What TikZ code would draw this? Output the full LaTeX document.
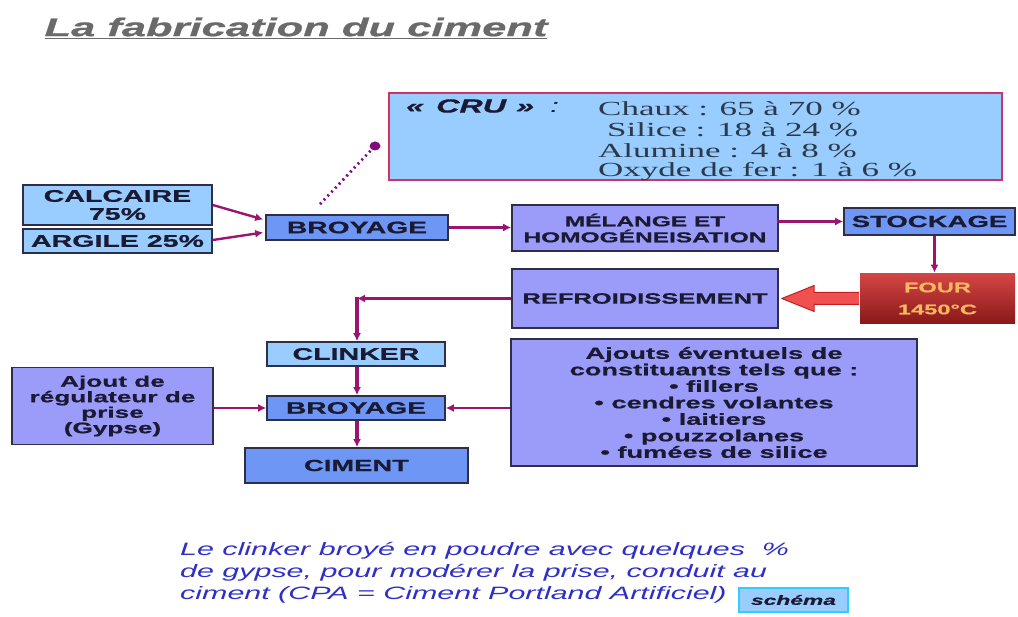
\documentclass[tikz,border=0pt]{standalone}
\usepackage{fontspec}
\usetikzlibrary{arrows.meta,calc}
\newfontfamily\bx[FakeStretch=1.7,FakeBold=0.8]{Liberation Sans}
\newfontfamily\nx[FakeStretch=1.7]{Liberation Sans}
\newfontfamily\sx[FakeStretch=1.75]{Liberation Serif}
\newcommand\fsz[2]{\fontsize{#1}{#2}\selectfont}
\definecolor{lbc}{HTML}{99CCFF}
\definecolor{mbc}{HTML}{6E96F5}
\definecolor{lvc}{HTML}{9B9BFA}
\definecolor{bordc}{HTML}{2E2E48}
\definecolor{txtc}{HTML}{1A1A33}
\definecolor{arrc}{HTML}{9A1570}
\definecolor{cruc}{HTML}{CC3366}
\definecolor{bluet}{HTML}{2F2FC8}
\definecolor{titc}{HTML}{6A6A6A}
\definecolor{fourt}{HTML}{F5B860}
\definecolor{fourtop}{HTML}{D54545}
\definecolor{fourbot}{HTML}{8A1818}
\definecolor{redar}{HTML}{F05050}
\definecolor{redbd}{HTML}{C02020}
\definecolor{cyanb}{HTML}{33CCFF}
\definecolor{dotc}{HTML}{800A80}
\definecolor{serc}{HTML}{2A3A4A}
\begin{document}
\begin{tikzpicture}[x=1pt,y=-1pt,
  box/.style={draw=bordc, line width=1.6pt, inner sep=0pt, align=center, text=txtc, font=\bx\bfseries},
  lbbox/.style={box, fill=lbc},
  mbbox/.style={box, fill=mbc},
  lvbox/.style={box, fill=lvc},
  flow/.style={draw=arrc, line width=3pt, -{Latex[length=8pt,width=8pt]}},
  vflow/.style={flow, line width=3.5pt},
  thinflow/.style={flow, line width=2.4pt},
  sline/.style={anchor=west, inner sep=0pt, text=serc, font=\sx\fsz{20}{21}}]
\useasboundingbox (0,0) rectangle (1018,617);
\fill[white] (0,0) rectangle (1018,617);

% title
\node[text=titc, font=\bx\bfseries\itshape\fsz{25.6}{28}] (title) at (296,28) {\underline{La fabrication du ciment}};

% CRU box
\node[draw=cruc, line width=2pt, fill=lbc, minimum width=613pt, minimum height=87pt, inner sep=0pt] (cru) at (695.5,136.5) {};
\node[anchor=west, inner sep=0pt, text=txtc, font=\bx\bfseries\itshape\fsz{19}{21}] (crut) at (406,106) {«\hspace{12pt}CRU\hspace{10pt}»\hspace{16pt}{\nx\mdseries\itshape :}};
\node[sline] (l1) at (598,109) {Chaux : 65 à 70 \%};
\node[sline] (l2) at (607,130) {Silice : 18 à 24 \%};
\node[sline] (l3) at (598,151) {Alumine : 4 à 8 \%};
\node[sline] (l4) at (598,172) {Oxyde de fer : 1 à 6 \%};

% boxes
\node[lbbox, minimum width=189pt, minimum height=40pt, font=\bx\bfseries\fsz{16.8}{18}] (calc) at (117.5,205) {CALCAIRE\\75\%};
\node[lbbox, minimum width=189pt, minimum height=24pt, font=\bx\bfseries\fsz{16.8}{18}] (arg) at (117.5,241) {ARGILE 25\%};
\node[mbbox, minimum width=182pt, minimum height=25pt, font=\bx\bfseries\fsz{16.6}{18}] (bro1) at (357,227.5) {BROYAGE};
\node[lvbox, minimum width=266pt, minimum height=46pt, font=\bx\bfseries\fsz{14.4}{16}] (mel) at (645,228) {MÉLANGE ET\\HOMOGÉNEISATION};
\node[mbbox, minimum width=171pt, minimum height=27pt, font=\bx\bfseries\fsz{16.2}{18}] (sto) at (929.5,221.5) {STOCKAGE};
\node[box, draw=none, minimum width=155pt, minimum height=50pt, top color=fourtop, bottom color=fourbot, text=fourt, font=\bx\bfseries\fsz{13.9}{22}] (four) at (937.5,298.5) {FOUR\\1450°C};
\node[lvbox, minimum width=266pt, minimum height=59pt, font=\bx\bfseries\fsz{15}{18}] (ref) at (645,298.5) {REFROIDISSEMENT};
\node[lbbox, minimum width=178pt, minimum height=24pt, font=\bx\bfseries\fsz{16.8}{18}] (clk) at (356,354) {CLINKER};
\node[mbbox, minimum width=178pt, minimum height=24pt, font=\bx\bfseries\fsz{16.6}{18}] (bro2) at (356,408) {BROYAGE};
\node[mbbox, minimum width=223pt, minimum height=35pt, font=\bx\bfseries\fsz{16.1}{18}] (cim) at (356.5,465.5) {CIMENT};
\node[lvbox, minimum width=201pt, minimum height=77pt, font=\bx\bfseries\fsz{15.4}{15.5}] (reg) at (112.5,406) {Ajout de\\régulateur de\\prise\\(Gypse)};
\node[lvbox, minimum width=406pt, minimum height=127pt, font=\bx\bfseries\fsz{16}{16.5}] (ajo) at (714,402.5) {Ajouts éventuels de\\constituants tels que :\\• fillers\\• cendres volantes\\• laitiers\\• pouzzolanes\\• fumées de silice};

% connectors
\draw[thinflow] (calc.east) -- ($(bro1.west)+(-2,-8)$);
\draw[thinflow] ($(arg.east)+(0,-1)$) -- ($(bro1.west)+(-2,5)$);
\draw[flow] (bro1.east) -- (bro1.east -| mel.west);
\draw[flow] ($(mel.west|-sto.west)+(266,0)$) -- (sto.west);
\draw[vflow] ($(sto.south)+(5,0)$) -- ($(four.north)+(-3,0)$);
\draw[thinflow] (ref.west) -- ($(ref.west-|clk.north)+(1,0)$);
\draw[vflow] ($(ref.west-|clk.north)+(1,-1.2)$) -- ($(clk.north)+(1,0)$);
\draw[vflow] ($(clk.south)+(1,0)$) -- ($(bro2.north)+(1,0)$);
\draw[vflow] ($(bro2.south)+(1,0)$) -- ($(cim.north)+(0.5,0)$);
\draw[thinflow] (reg.east|-bro2.west) -- (bro2.west);
\draw[thinflow] (ajo.west|-bro2.east) -- (bro2.east);

% big red arrow from FOUR to REFROIDISSEMENT
\draw[fill=redar, draw=redbd, line width=1pt, line join=round]
  ($(four.west)+(0,-6)$) -- ($(four.west)+(-45,-6)$) -- ($(four.west)+(-45,-13)$)
  -- ($(ref.east)+(3,0)$)
  -- ($(four.west)+(-45,13)$) -- ($(four.west)+(-45,6)$) -- ($(four.west)+(0,6)$);

% dotted pointer to CRU
\coordinate (dotend) at (375,146);
\coordinate (dotstart) at ($(bro1.north)+(-37,-10)$);
\draw[dotc, line width=2.8pt, dash pattern=on 2pt off 3.5pt] (dotstart) -- (dotend);
\fill[dotc] (dotend) ellipse (5.5pt and 4.5pt);

% blue comment
\node[anchor=west, align=left, inner sep=0pt, text=bluet, font=\nx\itshape\fsz{17.9}{22}] (note) at (180,573)
 {Le clinker broyé en poudre avec quelques\ \ \%\\de gypse, pour modérer la prise, conduit au\\ciment (CPA = Ciment Portland Artificiel)};

% schema button
\node[draw=cyanb, line width=2pt, fill=lbc, minimum width=109pt, minimum height=24pt, inner sep=0pt, text=txtc, font=\bx\bfseries\itshape\fsz{13.4}{15}] (schema) at (793.5,600) {schéma};
\end{tikzpicture}
\end{document}
